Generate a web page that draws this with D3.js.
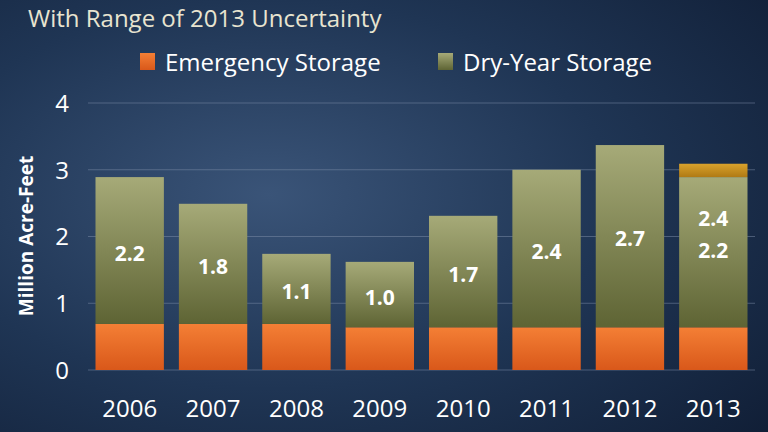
<!DOCTYPE html>
<html><head><meta charset="utf-8">
<script src="https://cdn.jsdelivr.net/npm/d3@7"></script>
<style>body{margin:0;background:#1b2c48;}svg{display:block;font-family:'Open Sans','Noto Sans',sans-serif;}</style>
</head><body><svg id="c" width="768" height="432"></svg>
<script>
const years = ["2006","2007","2008","2009","2010","2011","2012","2013"];
const emergency = [0.69,0.69,0.69,0.64,0.64,0.64,0.64,0.64];
const dryYear = [2.2,1.8,1.05,0.98,1.67,2.36,2.73,2.25];
const dryLabels = ["2.2","1.8","1.1","1.0","1.7","2.4","2.7","2.2"];
const rangeExtra = [0,0,0,0,0,0,0,0.2];
const rangeLabels = ["","","","","","","","2.4"];
const yTicks = [0,1,2,3,4];

const svg = d3.select("#c");
const defs = svg.append("defs");
const bg = defs.append("radialGradient").attr("id","bg").attr("cx","0.35").attr("cy","0.45").attr("r","0.9");
bg.append("stop").attr("offset","0").attr("stop-color","#3a5478");
bg.append("stop").attr("offset","0.5").attr("stop-color","#1f3554");
bg.append("stop").attr("offset","1").attr("stop-color","#0f1c33");
svg.append("rect").attr("width",768).attr("height",432).attr("fill","url(#bg)");
function vg(id,a,b){const g=defs.append("linearGradient").attr("id",id).attr("x1",0).attr("y1",0).attr("x2",0).attr("y2",1);
 g.append("stop").attr("offset",0).attr("stop-color",a);g.append("stop").attr("offset",1).attr("stop-color",b);}
vg("gGreen","#a6aa78","#5e6434");
vg("gOrange","#f47f35","#d9581a");
vg("gGold","#d9a22c","#b07a14");

const x = d3.scaleBand().domain(years).range([88,755]).paddingInner(0.18).paddingOuter(0.09);
const y = d3.scaleLinear().domain([0,4]).range([370,103]);

svg.append("text").attr("x",28).attr("y",27).attr("fill","#e8e4d0").attr("font-size",24)
 .attr("font-family","'Open Sans',sans-serif").text("With Range of 2013 Uncertainty");

const grid = svg.append("g");
yTicks.forEach(t=>{grid.append("line").attr("x1",88).attr("x2",755).attr("y1",y(t)).attr("y2",y(t))
  .attr("stroke","#7d8ea8").attr("stroke-opacity",0.5);});
const ax = svg.append("g").attr("transform","translate(72,0)").call(d3.axisLeft(y).tickValues(yTicks).tickSize(0).tickFormat(d3.format("d")));
ax.select(".domain").remove();
ax.selectAll("text").attr("fill","#fff").attr("font-size",24).attr("font-family","'Open Sans',sans-serif").attr("dy","0.35em");

svg.append("text").attr("transform","translate(33,236) rotate(-90)").attr("text-anchor","middle")
 .attr("fill","#fff").attr("font-size",19).attr("font-weight","bold").text("Million Acre-Feet");

const g = svg.append("g");
years.forEach((yr,i)=>{
  const e=emergency[i], d=dryYear[i], r=rangeExtra[i];
  g.append("rect").attr("x",x(yr)).attr("width",x.bandwidth()).attr("y",y(e)).attr("height",y(0)-y(e)).attr("fill","url(#gOrange)");
  g.append("rect").attr("x",x(yr)).attr("width",x.bandwidth()).attr("y",y(e+d)).attr("height",y(e)-y(e+d)).attr("fill","url(#gGreen)");
  if(r>0) g.append("rect").attr("x",x(yr)).attr("width",x.bandwidth()).attr("y",y(e+d+r)).attr("height",y(e+d)-y(e+d+r)).attr("fill","url(#gGold)");
  const cx=x(yr)+x.bandwidth()/2;
  const ly = y(e+d/2)+10;
  g.append("text").attr("x",cx).attr("y",rangeLabels[i]? 258 : ly).attr("text-anchor","middle").attr("fill","#fff")
   .attr("font-size",21).attr("font-weight","bold").text(dryLabels[i]);
  if(rangeLabels[i]) g.append("text").attr("x",cx).attr("y",226).attr("text-anchor","middle").attr("fill","#fff")
   .attr("font-size",21).attr("font-weight","bold").text(rangeLabels[i]);
  g.append("text").attr("x",cx).attr("y",417).attr("text-anchor","middle").attr("fill","#fff").attr("font-size",24).text(yr);
});

const leg=[["Emergency Storage","url(#gOrange)",140],["Dry-Year Storage","url(#gGreen)",438]];
leg.forEach(([t,f,lx])=>{
  svg.append("rect").attr("x",lx).attr("y",53).attr("width",15).attr("height",17).attr("fill",f);
  svg.append("text").attr("x",lx+25).attr("y",71).attr("fill","#fff").attr("font-size",24).text(t);
});
</script></body></html>
